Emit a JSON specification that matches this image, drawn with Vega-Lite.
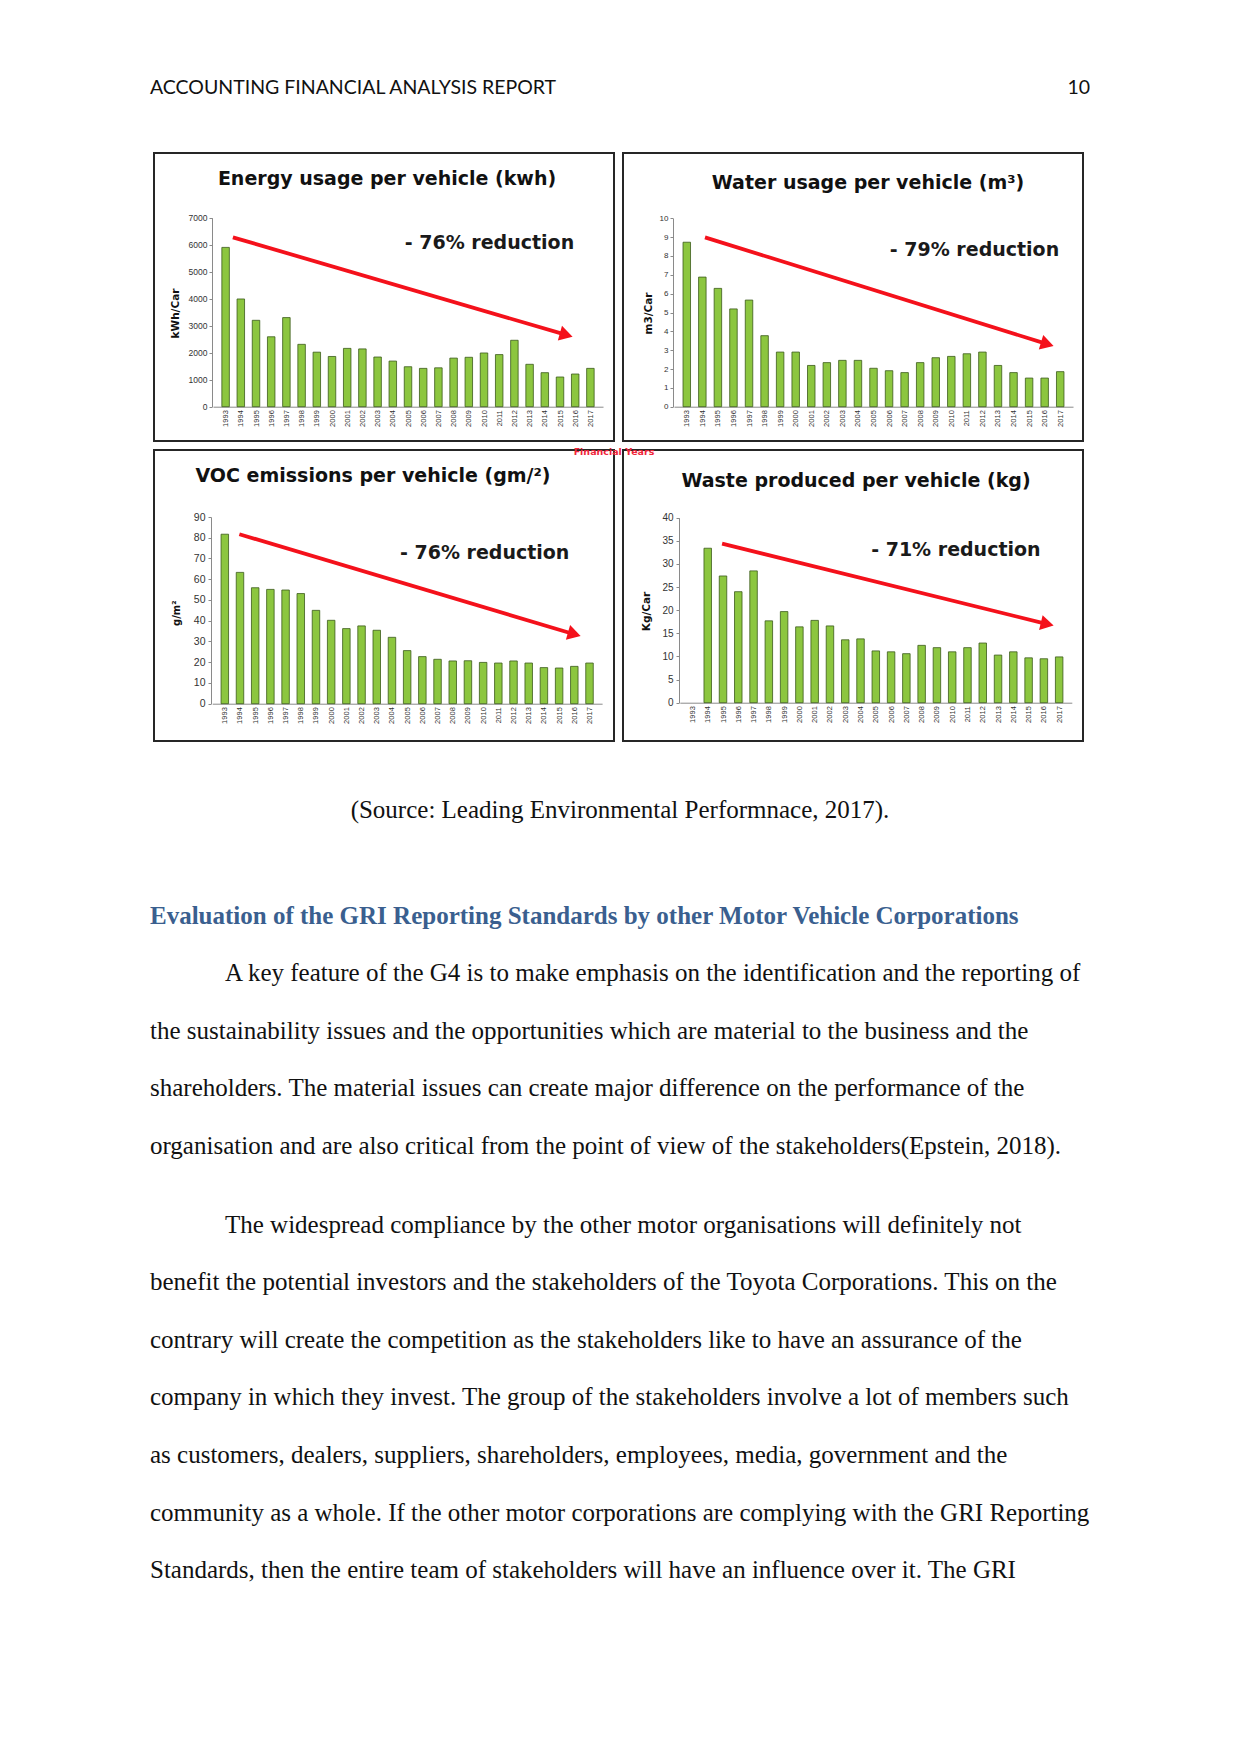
{
  "$schema": "https://vega.github.io/schema/vega-lite/v6.json",
  "background": "white",
  "padding": {"left": 150, "top": 23, "right": 0, "bottom": 0},
  "spacing": 0,
  "config": {
    "view": {"stroke": null},
    "axis": {"grid": false, "domainColor": "#8a8a8a", "tickColor": "#8a8a8a", "labelColor": "#333333", "labelFont": "Liberation Sans", "titleFont": "DejaVu Sans", "titleFontWeight": "bold", "titleColor": "#111111", "labelOverlap": false}
  },
  "vconcat": [
    {
      "width": 936, "height": 129,
      "layer": [
        {"data": {"values": [{"label": "ACCOUNTING FINANCIAL ANALYSIS REPORT"}]},
         "mark": {"type": "text", "align": "left", "baseline": "middle", "font": "Lato", "fontSize": 19.5, "color": "#111111", "dx": -4},
         "encoding": {"text": {"field": "label"}, "x": {"value": 0}}},
        {"data": {"values": [{"label": "10"}]},
         "mark": {"type": "text", "align": "right", "baseline": "middle", "font": "Lato", "fontSize": 19.5, "color": "#111111"},
         "encoding": {"text": {"field": "label"}, "x": {"value": "width"}}}
      ]
    },
    {
      "spacing": 5,
      "vconcat": [
        {
          "spacing": 7,
          "hconcat": [
            {
              "width": 460, "height": 288,
              "view": {"stroke": "#262626", "strokeWidth": 2},
              "title": {"text": "Energy usage per vehicle (kwh)", "font": "DejaVu Sans", "fontSize": 19, "fontWeight": "bold", "color": "#111111", "anchor": "middle", "frame": "group", "offset": -44.8, "baseline": "middle", "dx": 3},
              "encoding": {
                "x": {"field": "year", "type": "quantitative", "scale": {"domain": [1992.5, 2017.5], "range": [59, 449], "nice": false, "zero": false},
                      "axis": {"title": null, "offset": -34.3, "values": [1993,1994,1995,1996,1997,1998,1999,2000,2001,2002,2003,2004,2005,2006,2007,2008,2009,2010,2011,2012,2013,2014,2015,2016,2017], "format": "d", "labelAngle": -90, "ticks": false, "labelFontSize": 7.5, "labelPadding": 3, "labelOverlap": false, "labelFlush": false}},
                "y": {"field": "value", "type": "quantitative", "scale": {"domain": [0, 7000], "range": [253.7, 64.7], "nice": false},
                      "axis": {"title": "kWh/Car", "offset": -58, "values": [0,1000,2000,3000,4000,5000,6000,7000], "format": "d", "tickSize": 3, "labelPadding": 2, "labelFontSize": 8.5, "labelOverlap": false, "labelFlush": false, "titleFontSize": 10.5, "titleX": -37, "titleY": 160, "titleAlign": "center", "titleBaseline": "middle"}}
              },
              "layer": [
                {"data": {"values": [
                  {"year": 1993, "value": 5900}, {"year": 1994, "value": 3990}, {"year": 1995, "value": 3200}, {"year": 1996, "value": 2590}, {"year": 1997, "value": 3300},
                  {"year": 1998, "value": 2310}, {"year": 1999, "value": 2020}, {"year": 2000, "value": 1860}, {"year": 2001, "value": 2160}, {"year": 2002, "value": 2140},
                  {"year": 2003, "value": 1840}, {"year": 2004, "value": 1690}, {"year": 2005, "value": 1480}, {"year": 2006, "value": 1420}, {"year": 2007, "value": 1440},
                  {"year": 2008, "value": 1800}, {"year": 2009, "value": 1830}, {"year": 2010, "value": 1990}, {"year": 2011, "value": 1930}, {"year": 2012, "value": 2460},
                  {"year": 2013, "value": 1570}, {"year": 2014, "value": 1260}, {"year": 2015, "value": 1100}, {"year": 2016, "value": 1210}, {"year": 2017, "value": 1420}
                ]},
                 "mark": {"type": "bar", "width": 7.5, "fill": "#8cc63f", "stroke": "#3b5a1a", "strokeWidth": 0.8}},
                {"data": {"values": [{"year": 1993.48, "value": 6274, "year2": 2015.41, "value2": 2659}]},
                 "mark": {"type": "rule", "color": "#f4111b", "strokeWidth": 3.8},
                 "encoding": {"x2": {"field": "year2"}, "y2": {"field": "value2"}}},
                {"data": {"values": [{"year": 2015.41, "value": 2659}]},
                 "mark": {"type": "point", "shape": "triangle-right", "filled": true, "size": 230, "angle": 15.9, "color": "#f4111b", "opacity": 1}},
                {"data": {"values": [{"year": 2010.36, "value": 6074, "note": "- 76% reduction"}]},
                 "mark": {"type": "text", "font": "DejaVu Sans", "fontWeight": "bold", "fontSize": 19, "color": "#1a1a1a", "align": "center", "baseline": "middle"},
                 "encoding": {"text": {"field": "note"}}}
              ]
            },
            {
              "width": 460, "height": 288,
              "view": {"stroke": "#262626", "strokeWidth": 2},
              "title": {"text": "Water usage per vehicle (m³)", "font": "DejaVu Sans", "fontSize": 19, "fontWeight": "bold", "color": "#111111", "anchor": "middle", "frame": "group", "offset": -48.8, "baseline": "middle", "dx": 15},
              "encoding": {
                "x": {"field": "year", "type": "quantitative", "scale": {"domain": [1992.5, 2017.5], "range": [51, 450], "nice": false, "zero": false},
                      "axis": {"title": null, "offset": -34.3, "values": [1993,1994,1995,1996,1997,1998,1999,2000,2001,2002,2003,2004,2005,2006,2007,2008,2009,2010,2011,2012,2013,2014,2015,2016,2017], "format": "d", "labelAngle": -90, "ticks": false, "labelFontSize": 7.5, "labelPadding": 3, "labelOverlap": false, "labelFlush": false}},
                "y": {"field": "value", "type": "quantitative", "scale": {"domain": [0, 10], "range": [253.7, 65.3], "nice": false},
                      "axis": {"title": "m3/Car", "offset": -50, "values": [0,1,2,3,4,5,6,7,8,9,10], "format": "d", "tickSize": 3, "labelPadding": 2, "labelFontSize": 8, "labelOverlap": false, "labelFlush": false, "titleFontSize": 10.5, "titleX": -25, "titleY": 160, "titleAlign": "center", "titleBaseline": "middle"}}
              },
              "layer": [
                {"data": {"values": [
                  {"year": 1993, "value": 8.73}, {"year": 1994, "value": 6.88}, {"year": 1995, "value": 6.28}, {"year": 1996, "value": 5.19}, {"year": 1997, "value": 5.66},
                  {"year": 1998, "value": 3.77}, {"year": 1999, "value": 2.9}, {"year": 2000, "value": 2.9}, {"year": 2001, "value": 2.19}, {"year": 2002, "value": 2.34},
                  {"year": 2003, "value": 2.46}, {"year": 2004, "value": 2.46}, {"year": 2005, "value": 2.04}, {"year": 2006, "value": 1.91}, {"year": 2007, "value": 1.81},
                  {"year": 2008, "value": 2.34}, {"year": 2009, "value": 2.6}, {"year": 2010, "value": 2.67}, {"year": 2011, "value": 2.81}, {"year": 2012, "value": 2.9},
                  {"year": 2013, "value": 2.19}, {"year": 2014, "value": 1.81}, {"year": 2015, "value": 1.52}, {"year": 2016, "value": 1.52}, {"year": 2017, "value": 1.86}
                ]},
                 "mark": {"type": "bar", "width": 7.5, "fill": "#8cc63f", "stroke": "#3b5a1a", "strokeWidth": 0.8}},
                {"data": {"values": [{"year": 1994.17, "value": 8.99, "year2": 2016.17, "value2": 3.32}]},
                 "mark": {"type": "rule", "color": "#f4111b", "strokeWidth": 3.8},
                 "encoding": {"x2": {"field": "year2"}, "y2": {"field": "value2"}}},
                {"data": {"values": [{"year": 2016.17, "value": 3.32}]},
                 "mark": {"type": "point", "shape": "triangle-right", "filled": true, "size": 230, "angle": 16.9, "color": "#f4111b", "opacity": 1}},
                {"data": {"values": [{"year": 2011.49, "value": 8.32, "note": "- 79% reduction"}]},
                 "mark": {"type": "text", "font": "DejaVu Sans", "fontWeight": "bold", "fontSize": 19, "color": "#1a1a1a", "align": "center", "baseline": "middle"},
                 "encoding": {"text": {"field": "note"}}}
              ]
            }
          ]
        },
        {
          "spacing": 7,
          "title": {"text": "Financial Years", "font": "DejaVu Sans", "fontSize": 9.5, "fontWeight": "bold", "color": "#f0253a", "anchor": "middle", "frame": "bounds", "offset": -12.5, "baseline": "middle", "dx": -4.5},
          "hconcat": [
            {
              "width": 460, "height": 291,
              "view": {"stroke": "#262626", "strokeWidth": 2},
              "title": {"text": "VOC emissions per vehicle (gm/²)", "font": "DejaVu Sans", "fontSize": 19, "fontWeight": "bold", "color": "#111111", "anchor": "middle", "frame": "group", "offset": -44.5, "baseline": "middle", "dx": -11},
              "encoding": {
                "x": {"field": "year", "type": "quantitative", "scale": {"domain": [1992.5, 2017.5], "range": [58.2, 448.1], "nice": false, "zero": false},
                      "axis": {"title": null, "offset": -37.3, "values": [1993,1994,1995,1996,1997,1998,1999,2000,2001,2002,2003,2004,2005,2006,2007,2008,2009,2010,2011,2012,2013,2014,2015,2016,2017], "format": "d", "labelAngle": -90, "ticks": false, "labelFontSize": 7.5, "labelPadding": 3, "labelOverlap": false, "labelFlush": false}},
                "y": {"field": "value", "type": "quantitative", "scale": {"domain": [0, 90], "range": [253.7, 67], "nice": false},
                      "axis": {"title": "g/m²", "offset": -57, "values": [0,10,20,30,40,50,60,70,80,90], "format": "d", "tickSize": 3, "labelPadding": 3, "labelFontSize": 10.5, "labelOverlap": false, "labelFlush": false, "titleFontSize": 10, "titleX": -34.3, "titleY": 162.7, "titleAlign": "center", "titleBaseline": "middle"}}
              },
              "layer": [
                {"data": {"values": [
                  {"year": 1993, "value": 81.7}, {"year": 1994, "value": 63.3}, {"year": 1995, "value": 55.9}, {"year": 1996, "value": 55.1}, {"year": 1997, "value": 54.8},
                  {"year": 1998, "value": 53.1}, {"year": 1999, "value": 45.0}, {"year": 2000, "value": 40.2}, {"year": 2001, "value": 36.2}, {"year": 2002, "value": 37.5},
                  {"year": 2003, "value": 35.4}, {"year": 2004, "value": 32.0}, {"year": 2005, "value": 25.6}, {"year": 2006, "value": 22.7}, {"year": 2007, "value": 21.4},
                  {"year": 2008, "value": 20.6}, {"year": 2009, "value": 20.7}, {"year": 2010, "value": 19.9}, {"year": 2011, "value": 19.6}, {"year": 2012, "value": 20.6},
                  {"year": 2013, "value": 19.6}, {"year": 2014, "value": 17.4}, {"year": 2015, "value": 17.2}, {"year": 2016, "value": 18.0}, {"year": 2017, "value": 19.6}
                ]},
                 "mark": {"type": "bar", "width": 7.5, "fill": "#8cc63f", "stroke": "#3b5a1a", "strokeWidth": 0.8}},
                {"data": {"values": [{"year": 1993.96, "value": 81.7, "year2": 2016.0, "value2": 33.5}]},
                 "mark": {"type": "rule", "color": "#f4111b", "strokeWidth": 3.8},
                 "encoding": {"x2": {"field": "year2"}, "y2": {"field": "value2"}}},
                {"data": {"values": [{"year": 2016.0, "value": 33.5}]},
                 "mark": {"type": "point", "shape": "triangle-right", "filled": true, "size": 230, "angle": 16.2, "color": "#f4111b", "opacity": 1}},
                {"data": {"values": [{"year": 2010.1, "value": 72.8, "note": "- 76% reduction"}]},
                 "mark": {"type": "text", "font": "DejaVu Sans", "fontWeight": "bold", "fontSize": 19, "color": "#1a1a1a", "align": "center", "baseline": "middle"},
                 "encoding": {"text": {"field": "note"}}}
              ]
            },
            {
              "width": 460, "height": 291,
              "view": {"stroke": "#262626", "strokeWidth": 2},
              "title": {"text": "Waste produced per vehicle (kg)", "font": "DejaVu Sans", "fontSize": 19, "fontWeight": "bold", "color": "#111111", "anchor": "middle", "frame": "group", "offset": -49.5, "baseline": "middle", "dx": 3},
              "encoding": {
                "x": {"field": "year", "type": "quantitative", "scale": {"domain": [1992.5, 2017.5], "range": [56.8, 448.8], "nice": false, "zero": false},
                      "axis": {"title": null, "offset": -38.3, "values": [1993,1994,1995,1996,1997,1998,1999,2000,2001,2002,2003,2004,2005,2006,2007,2008,2009,2010,2011,2012,2013,2014,2015,2016,2017], "format": "d", "labelAngle": -90, "ticks": false, "labelFontSize": 7.5, "labelPadding": 3, "labelOverlap": false, "labelFlush": false}},
                "y": {"field": "value", "type": "quantitative", "scale": {"domain": [0, 40], "range": [252.7, 67.7], "nice": false},
                      "axis": {"title": "Kg/Car", "offset": -56, "values": [0,5,10,15,20,25,30,35,40], "format": "d", "tickSize": 3, "labelPadding": 3, "labelFontSize": 10, "labelOverlap": false, "labelFlush": false, "titleFontSize": 10.5, "titleX": -33, "titleY": 161, "titleAlign": "center", "titleBaseline": "middle"}}
              },
              "layer": [
                {"data": {"values": [
                  {"year": 1994, "value": 33.4}, {"year": 1995, "value": 27.4}, {"year": 1996, "value": 24.0}, {"year": 1997, "value": 28.5},
                  {"year": 1998, "value": 17.7}, {"year": 1999, "value": 19.7}, {"year": 2000, "value": 16.4}, {"year": 2001, "value": 17.8}, {"year": 2002, "value": 16.6},
                  {"year": 2003, "value": 13.6}, {"year": 2004, "value": 13.8}, {"year": 2005, "value": 11.2}, {"year": 2006, "value": 11.0}, {"year": 2007, "value": 10.6},
                  {"year": 2008, "value": 12.4}, {"year": 2009, "value": 11.9}, {"year": 2010, "value": 11.0}, {"year": 2011, "value": 11.9}, {"year": 2012, "value": 12.9},
                  {"year": 2013, "value": 10.3}, {"year": 2014, "value": 11.0}, {"year": 2015, "value": 9.7}, {"year": 2016, "value": 9.5}, {"year": 2017, "value": 9.9}
                ]},
                 "mark": {"type": "bar", "width": 7.5, "fill": "#8cc63f", "stroke": "#3b5a1a", "strokeWidth": 0.8}},
                {"data": {"values": [{"year": 1994.94, "value": 34.4, "year2": 2016.22, "value2": 17.0}]},
                 "mark": {"type": "rule", "color": "#f4111b", "strokeWidth": 3.8},
                 "encoding": {"x2": {"field": "year2"}, "y2": {"field": "value2"}}},
                {"data": {"values": [{"year": 2016.22, "value": 17.0}]},
                 "mark": {"type": "point", "shape": "triangle-right", "filled": true, "size": 230, "angle": 13.5, "color": "#f4111b", "opacity": 1}},
                {"data": {"values": [{"year": 2010.24, "value": 33.0, "note": "- 71% reduction"}]},
                 "mark": {"type": "text", "font": "DejaVu Sans", "fontWeight": "bold", "fontSize": 19, "color": "#1a1a1a", "align": "center", "baseline": "middle"},
                 "encoding": {"text": {"field": "note"}}}
              ]
            }
          ]
        }
      ]
    },
    {
      "width": 936, "height": 145,
      "data": {"values": [{"label": "(Source: Leading Environmental Performnace, 2017)."}]},
      "mark": {"type": "text", "align": "center", "baseline": "middle", "font": "Liberation Serif", "fontSize": 25, "color": "#111111", "dx": -2, "dy": -5},
      "encoding": {"text": {"field": "label"}}
    },
    {
      "width": 936, "height": 287.25,
      "data": {"values": [
        {"line": 0, "kind": "heading", "text": "Evaluation of the GRI Reporting Standards by other Motor Vehicle Corporations"},
        {"line": 1, "kind": "first", "text": "A key feature of the G4 is to make emphasis on the identification and the reporting of"},
        {"line": 2, "kind": "body", "text": "the sustainability issues and the opportunities which are material to the business and the"},
        {"line": 3, "kind": "body", "text": "shareholders. The material issues can create major difference on the performance of the"},
        {"line": 4, "kind": "body", "text": "organisation and are also critical from the point of view of the stakeholders(Epstein, 2018)."}
      ]},
      "encoding": {
        "y": {"field": "line", "type": "ordinal", "axis": null, "scale": {"type": "point", "padding": 0.5, "domain": [0, 1, 2, 3, 4]}},
        "text": {"field": "text"},
        "x": {"value": 0}
      },
      "layer": [
        {"transform": [{"filter": "datum.kind === 'heading'"}],
         "mark": {"type": "text", "align": "left", "baseline": "middle", "font": "Liberation Serif", "fontSize": 25, "fontWeight": "bold", "color": "#3a5f8f", "dx": -4}},
        {"transform": [{"filter": "datum.kind === 'first'"}],
         "mark": {"type": "text", "align": "left", "baseline": "middle", "font": "Liberation Serif", "fontSize": 25, "color": "#111111", "dx": 71}},
        {"transform": [{"filter": "datum.kind === 'body'"}],
         "mark": {"type": "text", "align": "left", "baseline": "middle", "font": "Liberation Serif", "fontSize": 25, "color": "#111111", "dx": -4}}
      ]
    },
    {
      "width": 936, "height": 403.2,
      "data": {"values": [
        {"line": 1, "kind": "first", "text": "The widespread compliance by the other motor organisations will definitely not"},
        {"line": 2, "kind": "body", "text": "benefit the potential investors and the stakeholders of the Toyota Corporations. This on the"},
        {"line": 3, "kind": "body", "text": "contrary will create the competition as the stakeholders like to have an assurance of the"},
        {"line": 4, "kind": "body", "text": "company in which they invest. The group of the stakeholders involve a lot of members such"},
        {"line": 5, "kind": "body", "text": "as customers, dealers, suppliers, shareholders, employees, media, government and the"},
        {"line": 6, "kind": "body", "text": "community as a whole. If the other motor corporations are complying with the GRI Reporting"},
        {"line": 7, "kind": "body", "text": "Standards, then the entire team of stakeholders will have an influence over it. The GRI"}
      ]},
      "encoding": {
        "y": {"field": "line", "type": "ordinal", "axis": null, "scale": {"type": "point", "padding": 0.5, "domain": [1, 2, 3, 4, 5, 6, 7]}},
        "text": {"field": "text"},
        "x": {"value": 0}
      },
      "layer": [
        {"transform": [{"filter": "datum.kind === 'first'"}],
         "mark": {"type": "text", "align": "left", "baseline": "middle", "font": "Liberation Serif", "fontSize": 25, "color": "#111111", "dx": 71, "dy": 20.8}},
        {"transform": [{"filter": "datum.kind === 'body'"}],
         "mark": {"type": "text", "align": "left", "baseline": "middle", "font": "Liberation Serif", "fontSize": 25, "color": "#111111", "dx": -4, "dy": 20.8}}
      ]
    }
  ]
}
